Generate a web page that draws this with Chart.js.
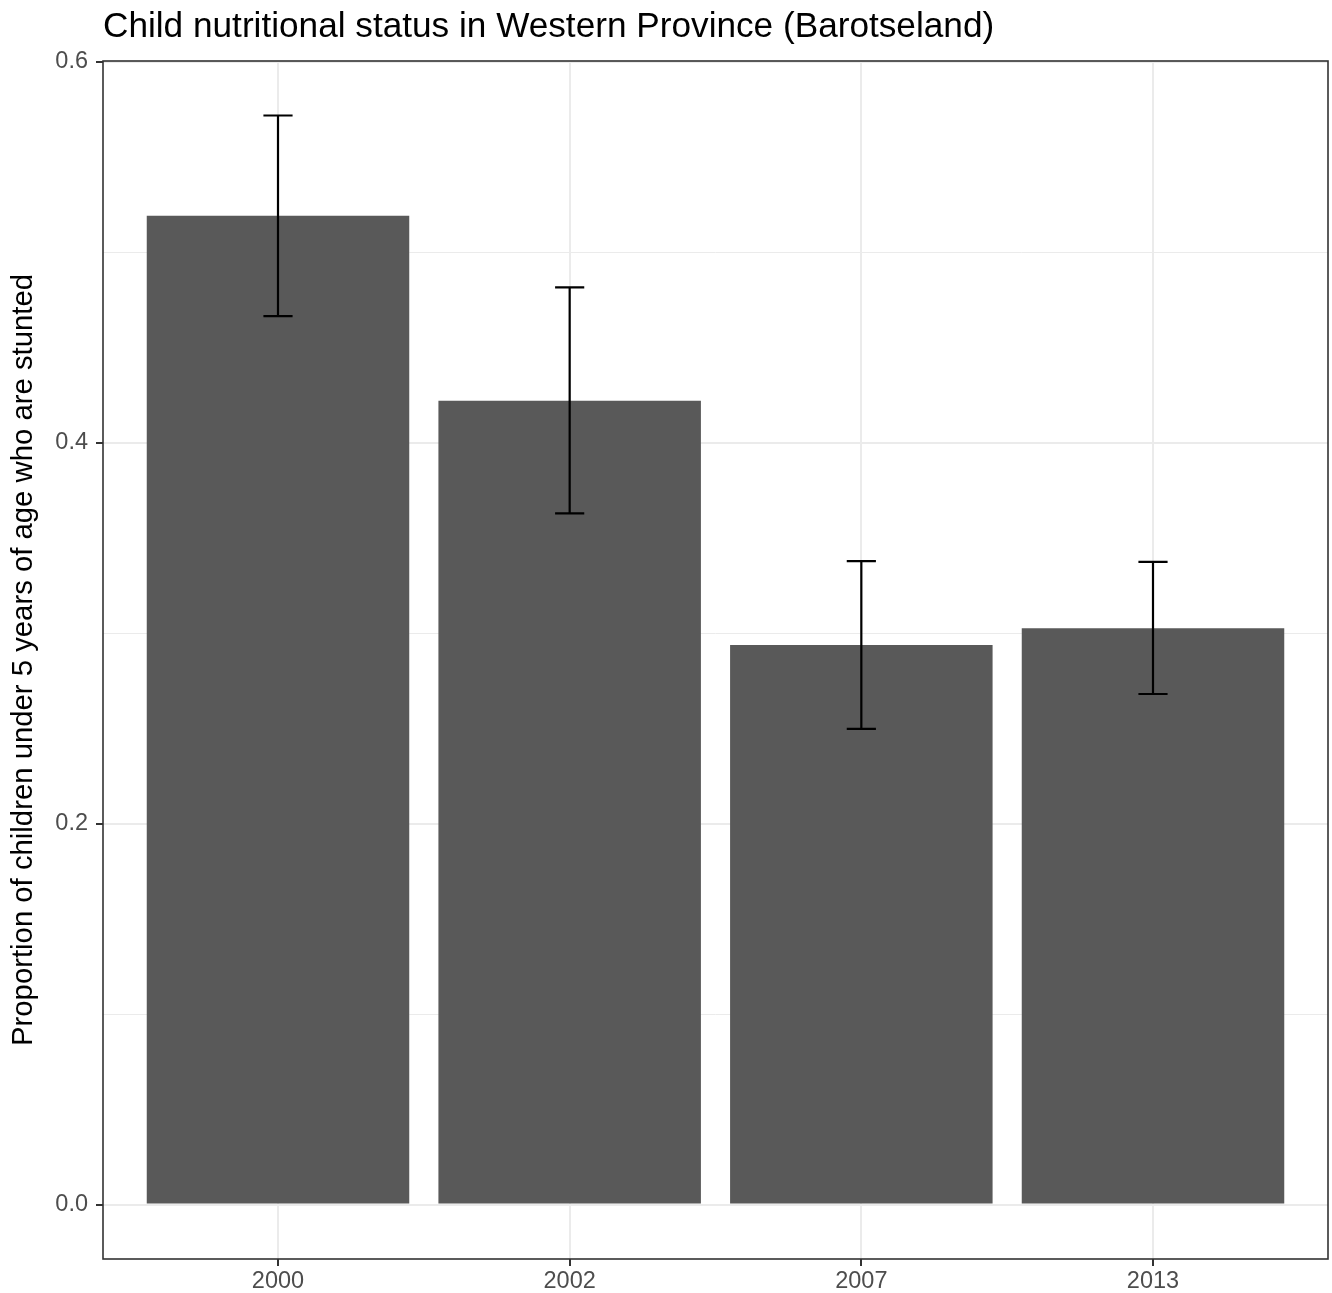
<!DOCTYPE html>
<html>
<head>
<meta charset="utf-8">
<script src="https://cdn.jsdelivr.net/npm/chart.js@4"></script>
<style>
  body { margin: 0; background: #fff; }
</style>
</head>
<body>
<canvas id="myChart" width="1332" height="1293"></canvas>
<script>
// Survey years and stunting proportions
const years = ['2000', '2002', '2007', '2013'];
const stunted = [0.519, 0.422, 0.2937, 0.3025];
const lowerCI = [0.4664, 0.3628, 0.2497, 0.268];
const upperCI = [0.5717, 0.4815, 0.3378, 0.3374];
const yTicks = [0, 0.1, 0.2, 0.3, 0.4, 0.5, 0.6];

const FONT = '"Liberation Sans", Arial, Helvetica, sans-serif';

// error bars + panel border + title, drawn on top of the bars
const extras = {
    id: 'extras',
    afterDatasetsDraw(chart) {
        const ctx = chart.ctx;
        const x = chart.scales.x;
        const y = chart.scales.y;
        const half = x.getPixelForValue(1.05) - x.getPixelForValue(1);
        ctx.save();
        ctx.strokeStyle = '#000';
        ctx.lineWidth = 2.2;
        years.forEach((yr, i) => {
            const cx = x.getPixelForValue(i + 1);
            const top = y.getPixelForValue(upperCI[i]);
            const bot = y.getPixelForValue(lowerCI[i]);
            ctx.beginPath();
            ctx.moveTo(cx, top); ctx.lineTo(cx, bot);
            ctx.moveTo(cx - half, top); ctx.lineTo(cx + half, top);
            ctx.moveTo(cx - half, bot); ctx.lineTo(cx + half, bot);
            ctx.stroke();
        });
        ctx.restore();
    },
    afterDraw(chart) {
        const ctx = chart.ctx;
        const a = chart.chartArea;
        ctx.save();
        ctx.strokeStyle = '#333333';
        ctx.lineWidth = 1.6;
        ctx.strokeRect(a.left, a.top, a.right - a.left, a.bottom - a.top);
        ctx.fillStyle = '#000';
        ctx.font = '35.2px ' + FONT;
        ctx.textBaseline = 'alphabetic';
        ctx.fillText('Child nutritional status in Western Province (Barotseland)', a.left, 37);
        ctx.restore();
    }
};

const ctx = document.getElementById('myChart').getContext('2d');
const chart = new Chart(ctx, {
    type: 'bar',
    data: {
        datasets: [{
            data: stunted.map((v, i) => ({ x: i + 1, y: v })),
            backgroundColor: '#595959',
            borderWidth: 0,
            categoryPercentage: 0.9,
            barPercentage: 1.0
        }]
    },
    options: {
        responsive: false,
        animation: false,
        layout: { padding: { top: 61, right: 4, left: 0, bottom: 0 } },
        plugins: {
            legend: { display: false },
            tooltip: { enabled: false }
        },
        scales: {
            x: {
                type: 'linear',
                offset: false,
                min: 0.4,
                max: 4.6,
                afterBuildTicks: axis => { axis.ticks = years.map((y, i) => ({ value: i + 1 })); },
                afterFit: axis => { axis.height = 34; },
                border: { display: false },
                grid: {
                    offset: false,
                    color: '#EBEBEB',
                    lineWidth: 2,
                    tickColor: '#333333',
                    tickWidth: 2,
                    tickLength: 7
                },
                ticks: {
                    autoSkip: false,
                    maxRotation: 0,
                    padding: 1,
                    color: '#4D4D4D',
                    font: { family: FONT, size: 23.5 },
                    callback: v => years[v - 1]
                }
            },
            y: {
                min: -0.0286,
                max: 0.6003,
                afterBuildTicks: axis => { axis.ticks = yTicks.map(v => ({ value: v })); },
                afterFit: axis => { axis.width = 103; },
                border: { display: false },
                grid: {
                    color: '#EBEBEB',
                    lineWidth: c => (Math.round(c.tick.value * 10) % 2 === 0 ? 2 : 1),
                    tickColor: c => (Math.round(c.tick.value * 10) % 2 === 0 ? '#333333' : 'rgba(0,0,0,0)'),
                    tickWidth: 2,
                    tickLength: 7
                },
                ticks: {
                    autoSkip: false,
                    padding: 8,
                    color: '#4D4D4D',
                    font: { family: FONT, size: 23.5 },
                    callback: v => (Math.round(v * 10) % 2 === 0 ? v.toFixed(1) : '')
                },
                title: {
                    display: true,
                    text: 'Proportion of children under 5 years of age who are stunted',
                    color: '#000',
                    font: { family: FONT, size: 29.3 },
                    padding: { top: 6, bottom: 0 }
                }
            }
        }
    },
    plugins: [extras]
});
</script>
</body>
</html>
